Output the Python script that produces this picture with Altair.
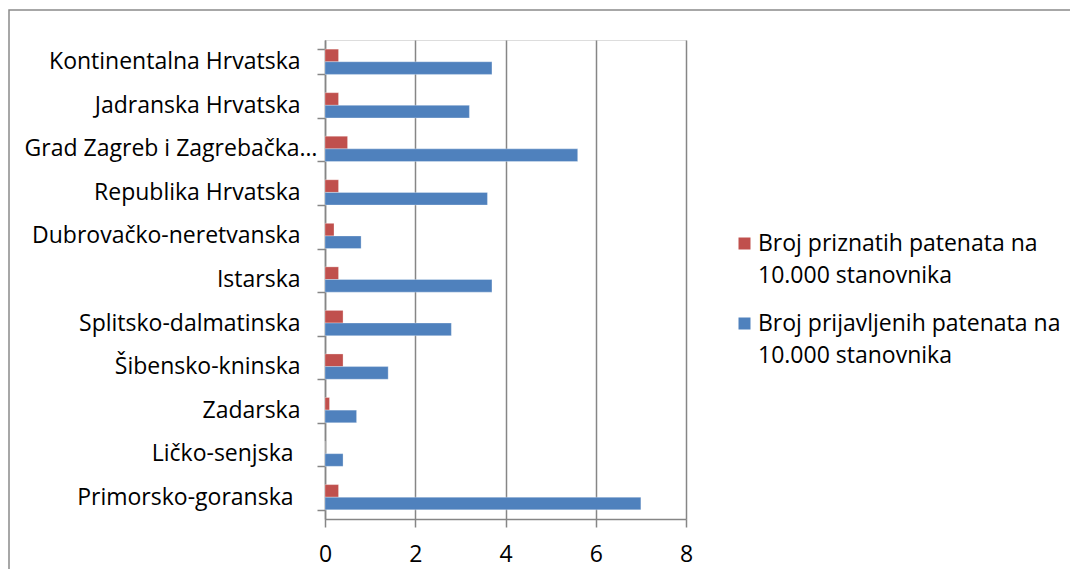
import altair as alt
import pandas as pd

regions = [
    "Kontinentalna Hrvatska",
    "Jadranska Hrvatska",
    "Grad Zagreb i Zagrebačka…",
    "Republika Hrvatska",
    "Dubrovačko-neretvanska",
    "Istarska",
    "Splitsko-dalmatinska",
    "Šibensko-kninska",
    "Zadarska",
    "Ličko-senjska",
    "Primorsko-goranska",
]
granted = [0.3, 0.3, 0.5, 0.3, 0.2, 0.3, 0.4, 0.4, 0.1, 0.0, 0.3]
applied = [3.7, 3.2, 5.6, 3.6, 0.8, 3.7, 2.8, 1.4, 0.7, 0.4, 7.0]
series = [
    "Broj priznatih patenata na 10.000 stanovnika",
    "Broj prijavljenih patenata na 10.000 stanovnika",
]
colors = ["#C0504D", "#4F81BD"]
x_ticks = [0, 2, 4, 6, 8]

rows = []
for r, g, a in zip(regions, granted, applied):
    rows.append({"region": r, "series": series[0], "value": g})
    rows.append({"region": r, "series": series[1], "value": a})
df = pd.DataFrame(rows)

FONT = "Open Sans"
FS = 23
GRAY = "#868686"

label_pad = {
    "condition": [
        {"test": "datum.value == 'Grad Zagreb i Zagrebačka…'", "value": 0},
        {"test": "datum.value == 'Ličko-senjska' || datum.value == 'Primorsko-goranska'", "value": 24},
    ],
    "value": 17,
}

bars = alt.Chart(df).mark_bar(stroke="#ffffff", strokeOpacity=0.5, strokeWidth=0.6).encode(
    x=alt.X("value:Q",
            scale=alt.Scale(domain=[0, 8], nice=False, zero=True),
            axis=alt.Axis(values=x_ticks, title=None, grid=True, gridColor=GRAY, gridWidth=1.5,
                          domainColor=GRAY, domainWidth=1.5, tickColor=GRAY, tickWidth=1.5,
                          tickSize=8, labelFontSize=FS, labelFont=FONT, labelColor="#000000",
                          labelPadding=16, labelFlush=False, format="d")),
    y=alt.Y("region:N", sort=regions,
            scale=alt.Scale(paddingInner=0.42, paddingOuter=0.21),
            axis=alt.Axis(title=None, tickBand="extent", grid=False, domainColor=GRAY,
                          domainWidth=1.5, tickColor=GRAY, tickWidth=1.5, tickSize=8,
                          labelFontSize=FS, labelFont=FONT, labelColor="#000000",
                          labelPadding=label_pad, labelLimit=0)),
    yOffset=alt.YOffset("series:N", sort=series),
    color=alt.Color("series:N", sort=series,
                    scale=alt.Scale(domain=series, range=colors),
                    legend=alt.Legend(
                        title=None, orient="none", legendX=408, legendY=192,
                        symbolType="square", symbolSize=144,
                        symbolStrokeWidth=0, labelFont=FONT, labelFontSize=FS,
                        labelColor="#000000", labelLimit=0, labelOffset=2,
                        labelBaseline="middle", rowPadding=24,
                        labelExpr="[replace(datum.label, ' 10.000 stanovnika', ''), '10.000 stanovnika']")),
)

frame = alt.Chart(alt.Data(values=[{}])).mark_rect(
    fill=None, stroke="#8a8a8a", strokeWidth=1.5
).encode(
    x=alt.value(-316), x2=alt.value(2000), y=alt.value(-30), y2=alt.value(2000)
)

chart = alt.layer(frame, bars).properties(
    width=361, height=479,
    padding={"left": 317, "top": 32, "right": 384, "bottom": 50},
    autosize=alt.AutoSizeParams(type="none"),
).configure_view(stroke=None).configure(
    font=FONT, style={"guide-label": {"lineHeight": 32}}
)

chart.save("out.html", embed_options={"renderer": "svg", "actions": False})
